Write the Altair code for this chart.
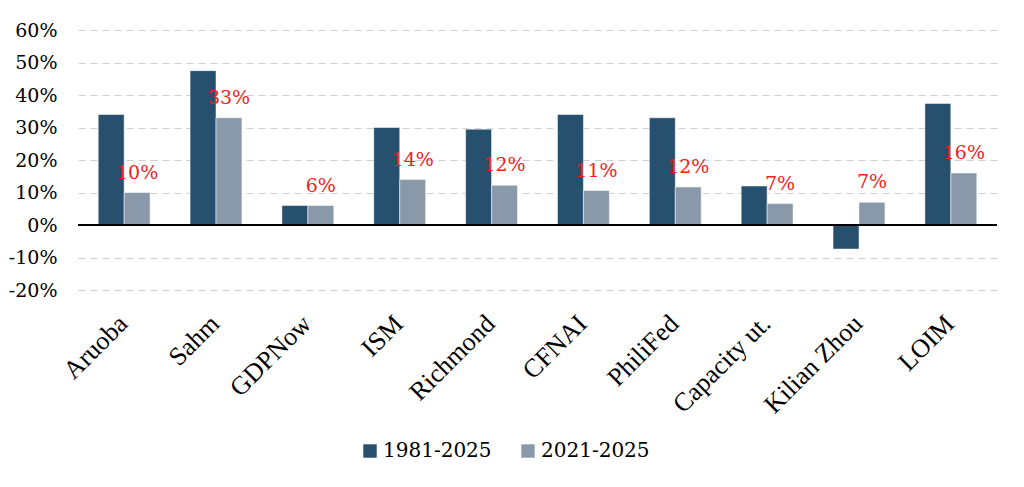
import altair as alt
import pandas as pd

categories = ["Aruoba", "Sahm", "GDPNow", "ISM", "Richmond", "CFNAI",
              "PhiliFed", "Capacity ut.", "Kilian Zhou", "LOIM"]
series_names = ["1981-2025", "2021-2025"]
long_period = [0.34, 0.475, 0.06, 0.30, 0.295, 0.34, 0.33, 0.12, -0.074, 0.374]
recent_period = [0.10, 0.33, 0.06, 0.14, 0.122, 0.106, 0.117, 0.066, 0.07, 0.16]
colors = ["#27506e", "#8a99a9"]
y_ticks = [-0.2, -0.1, 0, 0.1, 0.2, 0.3, 0.4, 0.5, 0.6]

rows = []
for c, a, b in zip(categories, long_period, recent_period):
    rows.append({"cat": c, "series": series_names[0], "value": a})
    rows.append({"cat": c, "series": series_names[1], "value": b})
df = pd.DataFrame(rows)

x_scale = alt.Scale(paddingInner=0.435, paddingOuter=0.22)
x_axis = alt.Axis(labelAngle=-45, labelFont="Liberation Serif",
                  labelFontSize=26, labelColor="#000000",
                  domain=False, ticks=False, labelPadding=20,
                  labelOffset=-10)
y_scale = alt.Scale(domain=[-0.2, 0.6], nice=False)
y_axis = alt.Axis(format=".0%", values=y_ticks, tickCount=9,
                  labelExpr="replace(datum.label, '\u2212', '-')",
                  labelOverlap=False,
                  labelFont="DejaVu Serif", labelFontSize=19,
                  labelColor="#000000", domain=False, ticks=False,
                  labelPadding=21,
                  grid=True, gridColor="#cfcfcf", gridDash=[7, 5],
                  gridWidth=1.2)

x = alt.X("cat:N", sort=categories, title=None, scale=x_scale, axis=x_axis)
xo = alt.XOffset("series:N", sort=series_names,
                 scale=alt.Scale(paddingInner=0, paddingOuter=0))
y = alt.Y("value:Q", title=None, scale=y_scale, axis=y_axis)

bars = alt.Chart(df).mark_bar(stroke="#ffffff", strokeWidth=0.5).encode(
    x=x, xOffset=xo, y=y,
    color=alt.Color("series:N", sort=series_names,
                    scale=alt.Scale(domain=series_names, range=colors),
                    legend=alt.Legend(title=None, orient="none", direction="horizontal",
                                      legendX=282, legendY=411,
                                      symbolType="square", symbolSize=180,
                                      symbolStrokeWidth=0, labelFont="DejaVu Serif",
                                      labelFontSize=20, labelColor="#000000",
                                      columnPadding=26, labelOffset=3))
)

zero = alt.Chart(df).transform_filter(
    alt.datum.series == series_names[0]
).transform_calculate(zero="0").mark_rule(color="#000000", strokeWidth=1.6).encode(
    y=alt.Y("zero:Q", title=None, scale=y_scale, axis=y_axis)
)

labels = alt.Chart(df).transform_filter(
    alt.datum.series == series_names[1]
).mark_text(color="#ee2222", font="DejaVu Serif", fontSize=19, dy=-20).encode(
    x=x, xOffset=xo, y=y,
    text=alt.Text("value:Q", format=".0%")
)

chart = alt.layer(bars, zero, labels).properties(
    width=919, height=260,
    autosize=alt.AutoSizeParams(type="none"),
    padding={"left": 70, "top": 22, "right": 10, "bottom": 185}
).configure(background="#ffffff").configure_view(stroke=None)

chart.save("out.html", embed_options={"renderer": "svg", "actions": False})
